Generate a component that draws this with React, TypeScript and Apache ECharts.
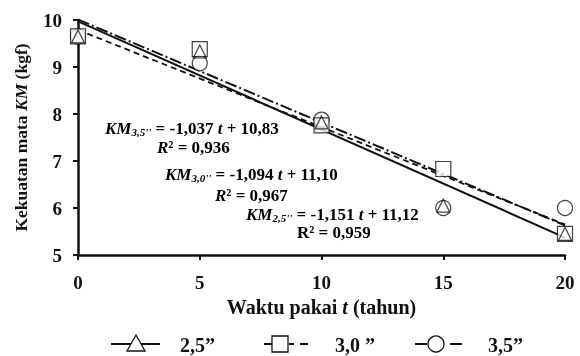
import React, { useEffect, useRef } from "react";
import * as echarts from "echarts";

const years = [0, 5, 10, 15, 20];
const km25 = [9.65, 9.33, 7.82, 6.05, 5.45];
const km30 = [9.65, 9.38, 7.76, 6.83, 5.45];
const km35 = [9.65, 9.08, 7.88, 6.0, 6.0];

const trendX = [0, 20];
const trend25 = [9.97, 5.37];
const trend30 = [10.01, 5.63];
const trend35 = [9.79, 5.65];

const yTicks = [5, 6, 7, 8, 9, 10];
const xTicks = [0, 5, 10, 15, 20];

const SERIF = "Liberation Serif";

const pairs = (xs: number[], ys: number[]) => xs.map((x, i) => [x, ys[i]]);

export default function App() {
  const ref = useRef<HTMLDivElement>(null);
  useEffect(() => {
    if (!ref.current) return;
    const chart = echarts.init(ref.current, undefined, { renderer: "svg" });
    const markerStyle = { color: "#fff", borderColor: "#111", borderWidth: 1.2 };
    const eqRich = {
      i: { fontFamily: SERIF, fontWeight: "bold", fontStyle: "italic", fontSize: 17, color: "#222" },
      s: { fontFamily: SERIF, fontWeight: "bold", fontStyle: "italic", fontSize: 11, color: "#222", verticalAlign: "bottom", padding: [7, 0, 0, 0] },
      n: { fontFamily: SERIF, fontWeight: "bold", fontSize: 17, color: "#222" },
    };
    const eq = (sub: string, body: string, b: string) =>
      `{i|KM}{s|${sub}}{n| = ${body} }{i|t}{n| + ${b}}`;
    const lgText = (x: number, t: string) => ({
      type: "text", left: x, top: 335,
      style: { text: t, fontFamily: SERIF, fontWeight: "bold", fontSize: 20, fill: "#111" },
    });
    const titleRich = {
      b: { fontFamily: SERIF, fontWeight: "bold", fontSize: 20, color: "#111" },
      bi: { fontFamily: SERIF, fontWeight: "bold", fontStyle: "italic", fontSize: 20, color: "#111" },
    };
    chart.setOption({
      animation: false,
      grid: { left: 78, right: 15, top: 20, bottom: 101, containLabel: false },
      xAxis: {
        type: "value", min: 0, max: 20, interval: 5,
        axisLine: { lineStyle: { color: "#111", width: 2.5 } },
        axisTick: { show: true, length: 5, lineStyle: { color: "#111", width: 2 } },
        splitLine: { show: false },
        axisLabel: { margin: 18, fontFamily: SERIF, fontWeight: "bold", fontSize: 19, color: "#111",
          formatter: (v: number) => (xTicks.includes(v) ? String(v) : "") },
        name: "{b|Waktu pakai }{bi|t}{b| (tahun)}",
        nameLocation: "middle", nameGap: 39,
        nameTextStyle: { rich: titleRich },
      },
      yAxis: {
        type: "value", min: 5, max: 10, interval: 1,
        axisLine: { show: true, lineStyle: { color: "#111", width: 2.5 } },
        axisTick: { show: true, length: 5, lineStyle: { color: "#111", width: 2 } },
        splitLine: { show: false },
        axisLabel: { margin: 16, fontFamily: SERIF, fontWeight: "bold", fontSize: 19, color: "#111",
          formatter: (v: number) => (yTicks.includes(v) ? String(v) : "") },
        name: "{b|Kekuatan mata }{bi|KM}{b| (kgf)}",
        nameLocation: "middle", nameGap: 48,
        nameTextStyle: { rich: {
          b: { fontFamily: SERIF, fontWeight: "bold", fontSize: 17.5, color: "#111" },
          bi: { fontFamily: SERIF, fontWeight: "bold", fontStyle: "italic", fontSize: 17.5, color: "#111" },
        } },
      },
      series: [
        { type: "line", data: pairs(trendX, trend25), showSymbol: false, symbol: "none",
          lineStyle: { color: "#111", width: 2 }, z: 2 },
        { type: "line", data: pairs(trendX, trend30), showSymbol: false, symbol: "none",
          lineStyle: { color: "#111", width: 2, type: [12, 3, 2, 3] }, z: 2 },
        { type: "line", data: pairs(trendX, trend35), showSymbol: false, symbol: "none",
          lineStyle: { color: "#111", width: 1.8, type: [6, 4] }, z: 2 },
        { type: "scatter", data: pairs(years, km35), symbol: "circle", symbolSize: 15, itemStyle: markerStyle, z: 3 },
        { type: "scatter", data: pairs(years, km30), symbol: "rect", symbolSize: 15, itemStyle: markerStyle, z: 4 },
        { type: "scatter", data: pairs(years, km25), symbol: "triangle", symbolSize: 13,
          itemStyle: { color: "rgba(0,0,0,0)", borderColor: "#111", borderWidth: 1.2 }, z: 5 },
      ],
      graphic: [
        { type: "text", left: 105, top: 120, style: { text: eq("3,5''", "-1,037", "10,83"), rich: eqRich } },
        { type: "text", left: 157, top: 139, style: { text: "{i|R}{n|² = 0,936}", rich: eqRich } },
        { type: "text", left: 165, top: 166, style: { text: eq("3,0''", "-1,094", "11,10"), rich: eqRich } },
        { type: "text", left: 215, top: 187, style: { text: "{i|R}{n|² = 0,967}", rich: eqRich } },
        { type: "text", left: 246, top: 206, style: { text: eq("2,5''", "-1,151", "11,12"), rich: eqRich } },
        { type: "text", left: 297, top: 224, style: { text: "{n|R² = 0,959}", rich: eqRich } },
        // legend
        { type: "line", shape: { x1: 111, y1: 344, x2: 160, y2: 344 }, style: { stroke: "#111", lineWidth: 2 } },
        { type: "polygon", shape: { points: [[136, 335], [145, 351], [127, 351]] }, style: { fill: "#fff", stroke: "#111", lineWidth: 1.3 } },
        lgText(180, "2,5”"),
        { type: "line", shape: { x1: 264, y1: 344, x2: 272, y2: 344 }, style: { stroke: "#111", lineWidth: 2 } },
        { type: "line", shape: { x1: 289, y1: 344, x2: 294, y2: 344 }, style: { stroke: "#111", lineWidth: 2 } },
        { type: "line", shape: { x1: 300, y1: 344, x2: 308, y2: 344 }, style: { stroke: "#111", lineWidth: 2 } },
        { type: "rect", shape: { x: 272, y: 336, width: 16, height: 16 }, style: { fill: "#fff", stroke: "#111", lineWidth: 1.3 } },
        lgText(335, "3,0 ”"),
        { type: "line", shape: { x1: 415, y1: 344, x2: 427, y2: 344 }, style: { stroke: "#111", lineWidth: 2 } },
        { type: "line", shape: { x1: 450, y1: 344, x2: 462, y2: 344 }, style: { stroke: "#111", lineWidth: 2 } },
        { type: "circle", shape: { cx: 436, cy: 344, r: 8 }, style: { fill: "#fff", stroke: "#111", lineWidth: 1.3 } },
        lgText(488, "3,5”"),
      ],
    });
    return () => chart.dispose();
  }, []);
  return <div ref={ref} style={{ width: 580, height: 356, position: "fixed", left: 0, top: 0 }} />;
}
